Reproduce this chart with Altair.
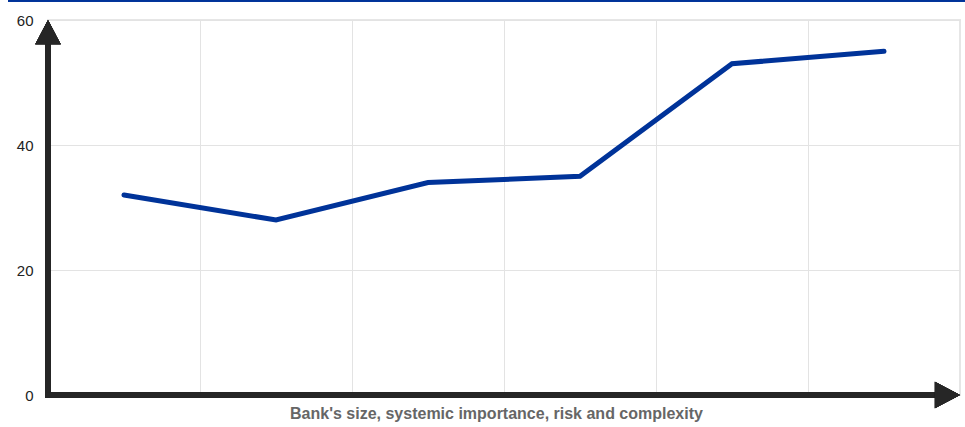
import altair as alt
import pandas as pd

# Six stages along the horizontal axis and the plotted level at each
stages = [1, 2, 3, 4, 5, 6]
levels = [32, 28, 34, 35, 53, 55]
y_ticks = [0, 20, 40, 60]
x_grid = [1.5, 2.5, 3.5, 4.5, 5.5]
x_title = "Bank's size, systemic importance, risk and complexity"

W, H = 912, 375
AXIS_COLOR = "#262626"
LINE_COLOR = "#003399"
FONT = "Liberation Sans"

df = pd.DataFrame({"stage": stages, "level": levels})

x_enc = alt.X(
    "stage:Q",
    scale=alt.Scale(domain=[0.5, 6.5], nice=False, zero=False),
    axis=alt.Axis(
        values=x_grid, grid=True, labels=False, ticks=False, domain=False,
        gridColor="#e3e3e3", gridWidth=1,
        title=x_title, titleFont=FONT, titleFontSize=16, titleFontWeight="bold",
        titleColor="#666666", titlePadding=10, titleX=W / 2 - 8, titleAlign="center",
    ),
)
y_enc = alt.Y(
    "level:Q",
    scale=alt.Scale(domain=[0, 60], nice=False),
    axis=alt.Axis(
        values=y_ticks, grid=True, ticks=False, domain=False,
        gridColor="#e3e3e3", gridWidth=1,
        labelFont=FONT, labelFontSize=15, labelColor="#222222", labelPadding=15,
        title=None,
    ),
)

line = alt.Chart(df).mark_line(
    color=LINE_COLOR, strokeWidth=5, strokeCap="round"
).encode(x=x_enc, y=y_enc)

# Thick axis shafts ending beneath the arrow heads
y_shaft = alt.Chart(df).mark_rule(color=AXIS_COLOR, strokeWidth=5.5).encode(
    x=alt.value(0), y=alt.value(H + 2.5), y2=alt.value(22)
)
x_shaft = alt.Chart(df).mark_rule(color=AXIS_COLOR, strokeWidth=5.5).encode(
    x=alt.value(-2.75), x2=alt.value(W - 22), y=alt.value(H)
)

# Arrow heads with their tips at the ends of each axis
up_head = alt.Chart(df).mark_point(
    shape="M0,0L-1,1.9L1,1.9Z", filled=True, opacity=1, size=650,
    color=AXIS_COLOR, strokeWidth=0,
).encode(x=alt.value(0), y=alt.datum(60))
right_head = alt.Chart(df).mark_point(
    shape="M0,0L-1.9,-1L-1.9,1Z", filled=True, opacity=1, size=700,
    color=AXIS_COLOR, strokeWidth=0,
).encode(x=alt.value(W), y=alt.datum(0))

# Thin accent rule across the very top of the page
top_rule = alt.Chart(df).mark_rule(color=LINE_COLOR, strokeWidth=1.8).encode(
    x=alt.value(-40), x2=alt.value(W + 5), y=alt.value(-19.3)
)

chart = (
    alt.layer(line, y_shaft, x_shaft, up_head, right_head, top_rule)
    .properties(
        width=W, height=H,
        autosize=alt.AutoSizeParams(type="none"),
        padding={"left": 48, "top": 20, "right": 5, "bottom": 32},
        background="white",
    )
    .configure_view(stroke="#e6e6e6", strokeWidth=2)
)

chart.save("out.html", embed_options={"renderer": "svg", "actions": False})
